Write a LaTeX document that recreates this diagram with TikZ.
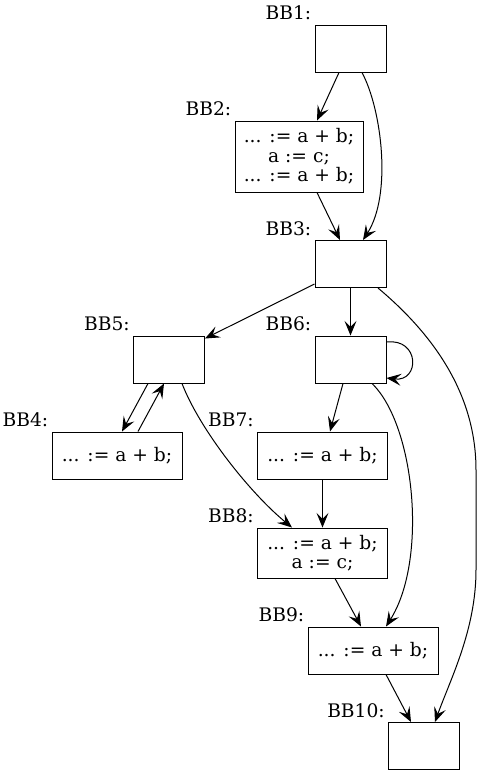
\documentclass[tikz,border=0pt]{standalone}
\usepackage{fontspec}
\setmainfont{DejaVu Serif}
\usetikzlibrary{calc}
\usetikzlibrary{arrows.meta}

\begin{document}
\begin{tikzpicture}[x=0.75pt,y=-0.75pt,
    bb/.style={draw,line width=0.75pt,minimum width=53.25pt,minimum height=35.25pt,
      inner sep=0pt,align=center,font=\fontsize{14}{14.6}\selectfont},
    wide/.style={bb,minimum width=97.5pt},
    bbname/.style={anchor=base east,inner sep=0pt,font=\fontsize{14}{14.6}\selectfont},
    flow/.style={-{Stealth[length=11pt,width=9pt,inset=4.5pt]},line width=0.75pt}]
    \useasboundingbox (0,0) rectangle (481,776);
    \node[bb] (bb1) at (350.5,48.5) {};
    \node[wide,minimum width=96pt,minimum height=53.25pt] (bb2) at (299,156.5)
      {... := a + b;\\a := c;\\... := a + b;};
    \node[bb] (bb3) at (350.5,264) {};
    \node[wide] (bb4) at (117,455.5) {... := a + b;};
    \node[bb] (bb5) at (169,359.5) {};
    \node[bb] (bb6) at (350.5,359.5) {};
    \node[wide] (bb7) at (322.5,455.5) {... := a + b;};
    \node[wide,minimum height=37.5pt] (bb8) at (322.5,553) {... := a + b;\\a := c;};
    \node[wide] (bb9) at (373,650.5) {... := a + b;};
    \node[bb] (bb10) at (424,746) {};
    \foreach \n in {1,...,10}
      \node[bbname] (name\n) at ($(bb\n.north west)+(-3,-5)$) {BB\n:};
    \draw[flow] ($(bb1.south)+(-11.5,0)$) -- ($(bb2.north)+(18,0)$);
    \draw[flow] ($(bb1.south)+(11.5,0)$) .. controls (382,110) and (392,195) .. ($(bb3.north)+(12.5,0)$);
    \draw[flow] ($(bb2.south)+(18,0)$) -- ($(bb3.north)+(-10.5,0)$);
    \draw[flow] ($(bb3.west)+(0,20)$) -- ($(bb5.north east)+(0,3)$);
    \draw[flow] (bb3.south) -- (bb6.north);
    \draw[flow] ($(bb3.south)+(27.5,0)$) .. controls (440,340) and (476,400) .. (476,470)
      -- (476,570) .. controls (476,630) and (450,680) .. ($(bb10.north)+(11,0)$);
    \draw[flow] ($(bb5.south)+(-21,0)$) -- ($(bb4.north)+(5,0)$);
    \draw[flow] ($(bb4.north)+(21,0)$) -- ($(bb5.south)+(-5,0)$);
    \draw[flow] ($(bb5.south)+(13,0)$) .. controls (200,430) and (250,493) .. ($(bb8.north)+(-30.5,0)$);
    \draw[flow] ($(bb6.east)+(0,-17.5)$) .. controls (420,338) and (420,382) .. ($(bb6.east)+(0,18.5)$);
    \draw[flow] ($(bb6.south)+(-7.5,0)$) -- ($(bb7.north)+(7.5,0)$);
    \draw[flow] ($(bb6.south)+(21.5,0)$) .. controls (415,425) and (428,560) .. ($(bb9.north)+(13,0)$);
    \draw[flow] (bb7.south) -- (bb8.north);
    \draw[flow] ($(bb8.south)+(12.5,0)$) -- ($(bb9.north)+(-12,0)$);
    \draw[flow] ($(bb9.south)+(13,0)$) -- ($(bb10.north)+(-13,0)$);
\end{tikzpicture}
\end{document}
